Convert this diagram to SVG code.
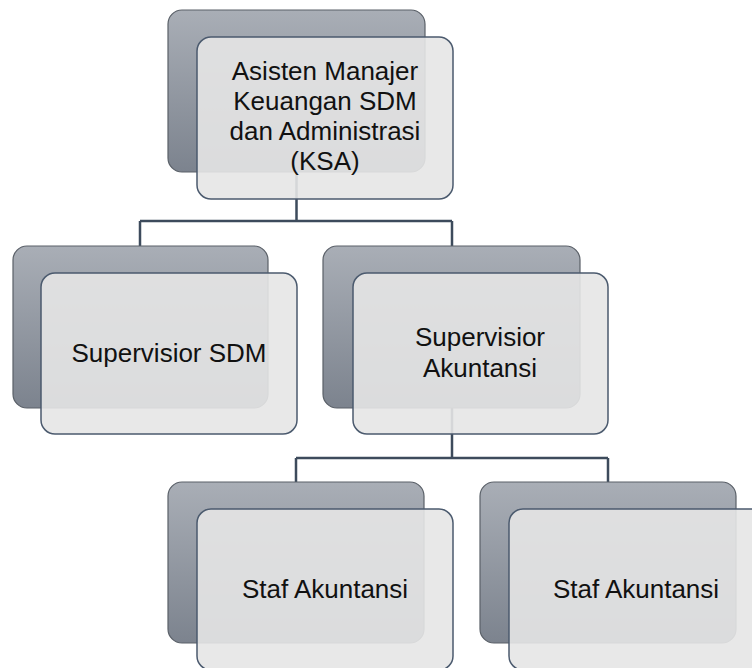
<svg xmlns="http://www.w3.org/2000/svg" width="752" height="668" viewBox="0 0 752 668">
<defs>
<linearGradient id="backGrad" x1="0" y1="0" x2="0" y2="1">
<stop offset="0" stop-color="#a9aeb6"/>
<stop offset="1" stop-color="#7c838e"/>
</linearGradient>
<style>
.back{fill:url(#backGrad);stroke:#5a6068;stroke-width:1.2}
.front{fill:#e5e5e5;fill-opacity:0.9;stroke:#4b5a6e;stroke-width:1.5}
.conn{fill:none;stroke:#3d4b5c;stroke-width:2.5}
.lbl{font-family:"Liberation Sans",Arial,sans-serif;font-size:26px;fill:#111;text-anchor:middle}
</style>
</defs>
<rect width="752" height="668" fill="#ffffff"/>
<g id="connectors">
<path class="conn" d="M296.5 172 V221 M140 221 H452 M140 221 V246 M452 221 V246"/>
<path class="conn" d="M452 408 V458 M296 458 H608 M296 458 V482 M608 458 V482"/>
</g>
<g id="node-ksa">
<rect class="back" x="168" y="10" width="257" height="162" rx="14"/>
<rect class="front" x="197" y="37" width="256" height="162" rx="14"/>
<text class="lbl" x="325" y="80">Asisten Manajer</text>
<text class="lbl" x="325" y="110">Keuangan SDM</text>
<text class="lbl" x="325" y="140">dan Administrasi</text>
<text class="lbl" x="325" y="170">(KSA)</text>
</g>
<g id="node-sdm">
<rect class="back" x="13" y="246" width="255" height="162" rx="14"/>
<rect class="front" x="41" y="273" width="256" height="161" rx="14"/>
<text class="lbl" x="169" y="362">Supervisior SDM</text>
</g>
<g id="node-akuntansi">
<rect class="back" x="323" y="246" width="257" height="162" rx="14"/>
<rect class="front" x="353" y="273" width="255" height="161" rx="14"/>
<text class="lbl" x="480" y="346">Supervisior</text>
<text class="lbl" x="480" y="377">Akuntansi</text>
</g>
<g id="node-staf1">
<rect class="back" x="168" y="482" width="256" height="161" rx="14"/>
<rect class="front" x="197" y="509" width="256" height="161" rx="14"/>
<text class="lbl" x="325" y="598">Staf Akuntansi</text>
</g>
<g id="node-staf2">
<rect class="back" x="480" y="482" width="256" height="161" rx="14"/>
<rect class="front" x="509" y="509" width="256" height="161" rx="14"/>
<text class="lbl" x="636" y="598">Staf Akuntansi</text>
</g>
</svg>
